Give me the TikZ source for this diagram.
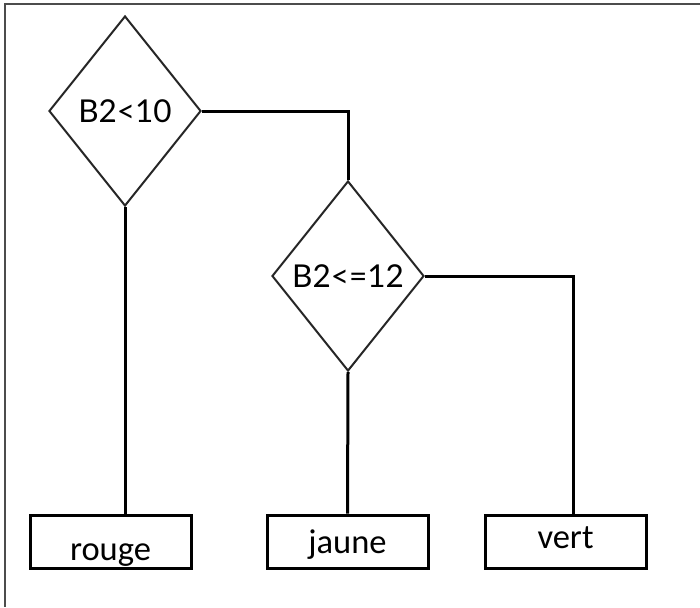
\documentclass[tikz,border=0pt]{standalone}
\usepackage{fontspec}
\setmainfont{Carlito}
\newfontfamily\latofont{Lato}
\usetikzlibrary{shapes.geometric}
\tikzset{
  decision/.style={diamond, draw=black!85, line width=2pt, inner sep=0pt,
    minimum width=152pt, minimum height=190pt, font=\latofont\fontsize{31.5}{34}\selectfont},
  outbox/.style={rectangle, draw=black, line width=3pt, inner sep=0pt,
    minimum width=161pt, minimum height=53pt, text depth=0pt,
    font=\fontsize{34.5}{38}\selectfont},
  wire/.style={draw=black, line width=3pt},
  frame/.style={draw=black!70, line width=1.5pt}
}
\begin{document}
\begin{tikzpicture}[x=1pt, y=-1pt]
\useasboundingbox (0,0) rectangle (700,607);
\draw[frame] (700,4) -- (5,4) -- (5,607);
\node[decision] (d1) at (125,111) {B2<10};
\node[decision] (d2) at (348,276) {B2<=12};
\node[outbox, text height=37pt] (rouge) at (110.5,541.5) {rouge};
\node[outbox, text height=23pt] (jaune) at (347.5,541.5) {jaune};
\node[outbox, text height=13pt] (vert) at (565.5,541.5) {vert};
\draw[wire] (d1.east) -| (d2.north);
\draw[wire] (d2.east) -| ([xshift=7.5pt]vert.north);
\draw[wire] (d1.south) -- (d1.south |- rouge.north);
\draw[wire] (d2.south) -- (jaune.north);
\end{tikzpicture}
\end{document}
